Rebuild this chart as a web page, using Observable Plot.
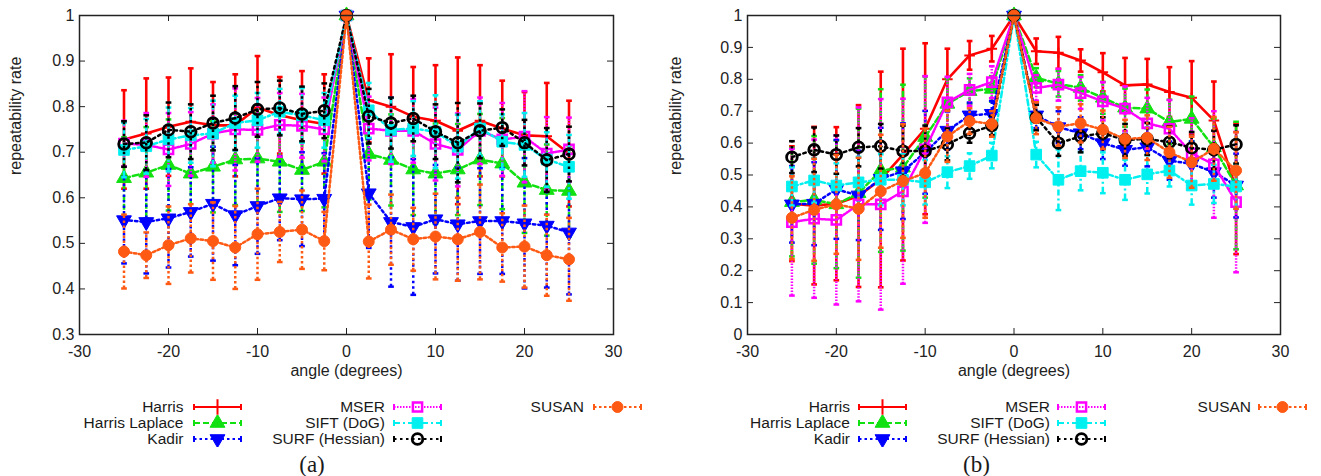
<!DOCTYPE html>
<html><head><meta charset="utf-8">
<script src="https://cdn.jsdelivr.net/npm/d3@7"></script>
<script src="https://cdn.jsdelivr.net/npm/@observablehq/plot@0.6"></script>
<style>
body{margin:0;background:#fff;font-family:"Liberation Sans",Arial,sans-serif;color:#222;}
#wrap{display:flex;width:1321px;height:476px;}
.panel{position:relative;height:476px;}
.lab{position:absolute;white-space:nowrap;font-size:15.5px;line-height:16px;text-align:right;color:#1a1a1a;}
.sw{position:absolute;}
.cap{position:absolute;font-family:"Liberation Serif","DejaVu Serif",serif;font-size:23px;line-height:26px;transform:translateX(-50%);color:#1a1a1a;}
</style></head><body>
<div id="wrap"><div class="panel" id="pa" style="width:660px"></div><div class="panel" id="pb" style="width:661px"></div></div>
<script>
const angles = [-25,-22.5,-20,-17.5,-15,-12.5,-10,-7.5,-5,-2.5,0,2.5,5,7.5,10,12.5,15,17.5,20,22.5,25];
const xTicks = [-30,-20,-10,0,10,20,30];
const yTicksA = [0.3,0.4,0.5,0.6,0.7,0.8,0.9,1];
const yTicksB = [0,0.1,0.2,0.3,0.4,0.5,0.6,0.7,0.8,0.9,1];
const names = ["Harris","Harris Laplace","Kadir","MSER","SIFT (DoG)","SURF (Hessian)","SUSAN"];

// panel (a)
const harrisA = [0.728,0.741,0.756,0.767,0.759,0.759,0.798,0.781,0.770,0.762,1,0.814,0.800,0.778,0.769,0.747,0.769,0.752,0.737,0.735,0.697];
const harrisAErr = [0.108,0.121,0.108,0.117,0.095,0.112,0.113,0.084,0.108,0.109,0,0.092,0.115,0.109,0.122,0.161,0.122,0.105,0.095,0.117,0.116];
const hlA = [0.643,0.655,0.672,0.653,0.668,0.684,0.686,0.679,0.661,0.679,1,0.696,0.683,0.662,0.653,0.662,0.684,0.675,0.633,0.617,0.615];
const hlAErr = [0.09,0.1,0.1,0.09,0.1,0.1,0.1,0.11,0.09,0.1,0,0.1,0.1,0.1,0.11,0.1,0.1,0.1,0.11,0.1,0.1];
const kadirA = [0.551,0.547,0.555,0.569,0.587,0.562,0.582,0.599,0.597,0.598,1,0.610,0.547,0.536,0.553,0.542,0.549,0.549,0.544,0.539,0.524];
const kadirAErr = [0.095,0.113,0.108,0.098,0.125,0.11,0.105,0.092,0.103,0.1,0,0.12,0.142,0.149,0.119,0.124,0.116,0.116,0.143,0.136,0.136];
const mserA = [0.719,0.716,0.706,0.718,0.741,0.750,0.749,0.760,0.758,0.750,1,0.752,0.747,0.747,0.718,0.705,0.747,0.728,0.734,0.697,0.706];
const mserAErr = [0.05,0.07,0.08,0.07,0.064,0.09,0.07,0.07,0.07,0.07,0,0.07,0.073,0.07,0.08,0.08,0.073,0.08,0.1,0.08,0.07];
const siftA = [0.705,0.713,0.728,0.737,0.741,0.764,0.770,0.789,0.781,0.770,1,0.792,0.749,0.752,0.745,0.712,0.752,0.723,0.716,0.684,0.668];
const siftAErr = [0.06,0.06,0.07,0.06,0.072,0.06,0.06,0.05,0.06,0.06,0,0.06,0.07,0.06,0.08,0.07,0.06,0.06,0.07,0.06,0.07];
const surfA = [0.718,0.721,0.749,0.745,0.764,0.775,0.794,0.797,0.784,0.791,1,0.779,0.764,0.774,0.745,0.721,0.747,0.754,0.721,0.683,0.696];
const surfAErr = [0.05,0.06,0.06,0.06,0.06,0.07,0.06,0.06,0.06,0.06,0,0.06,0.056,0.05,0.06,0.087,0.06,0.04,0.05,0.07,0.06];
const susanA = [0.482,0.474,0.496,0.511,0.505,0.491,0.520,0.525,0.530,0.505,1,0.504,0.530,0.509,0.515,0.509,0.525,0.491,0.493,0.474,0.465];
const susanAErr = [0.081,0.05,0.085,0.075,0.085,0.091,0.10,0.066,0.086,0.064,0,0.081,0.077,0.069,0.094,0.091,0.104,0.075,0.09,0.089,0.091];

// panel (b)
const harrisB = [0.41,0.404,0.41,0.434,0.486,0.564,0.645,0.80,0.875,0.896,1,0.888,0.883,0.859,0.822,0.781,0.784,0.760,0.742,0.671,0.457];
const harrisBErr = [0.18,0.247,0.24,0.285,0.338,0.332,0.268,0.096,0.045,0.04,0,0.04,0.05,0.035,0.06,0.086,0.08,0.078,0.115,0.122,0.205];
const hlB = [0.415,0.422,0.408,0.443,0.514,0.523,0.619,0.723,0.763,0.77,1,0.805,0.786,0.773,0.742,0.711,0.708,0.666,0.676,0.587,0.467];
const hlBErr = [0.17,0.2,0.2,0.265,0.255,0.26,0.19,0.08,0.04,0.04,0,0.03,0.04,0.04,0.05,0.06,0.06,0.07,0.07,0.09,0.2];
const kadirB = [0.408,0.41,0.455,0.436,0.488,0.512,0.571,0.639,0.687,0.692,1,0.687,0.650,0.631,0.600,0.579,0.587,0.545,0.535,0.509,0.467];
const kadirBErr = [0.12,0.13,0.155,0.14,0.16,0.15,0.13,0.06,0.04,0.04,0,0.04,0.05,0.05,0.05,0.05,0.06,0.06,0.07,0.08,0.1];
const mserB = [0.352,0.363,0.359,0.408,0.408,0.449,0.58,0.728,0.767,0.791,1,0.773,0.783,0.757,0.731,0.708,0.662,0.645,0.568,0.533,0.415];
const mserBErr = [0.23,0.248,0.265,0.304,0.33,0.29,0.23,0.08,0.05,0.05,0,0.04,0.05,0.05,0.06,0.07,0.08,0.09,0.11,0.167,0.22];
const siftB = [0.464,0.483,0.467,0.477,0.485,0.485,0.477,0.509,0.528,0.561,1,0.564,0.485,0.512,0.507,0.485,0.502,0.514,0.467,0.472,0.464];
const siftBErr = [0.06,0.07,0.07,0.08,0.08,0.08,0.07,0.05,0.04,0.04,0,0.04,0.095,0.06,0.064,0.063,0.06,0.05,0.06,0.06,0.07];
const surfB = [0.556,0.579,0.564,0.587,0.590,0.575,0.575,0.596,0.631,0.655,1,0.68,0.600,0.621,0.631,0.610,0.613,0.603,0.585,0.579,0.596];
const surfBErr = [0.05,0.07,0.06,0.06,0.07,0.08,0.08,0.05,0.03,0.03,0,0.04,0.04,0.05,0.05,0.05,0.05,0.05,0.05,0.06,0.06];
const susanB = [0.366,0.391,0.408,0.394,0.449,0.481,0.506,0.621,0.669,0.660,1,0.678,0.652,0.662,0.642,0.613,0.617,0.571,0.540,0.582,0.514];
const susanBErr = [0.13,0.16,0.155,0.16,0.177,0.178,0.14,0.08,0.04,0.04,0,0.05,0.06,0.06,0.06,0.06,0.07,0.08,0.08,0.1,0.12];

const styles = [
  {color:"#ff0000", dash:null, symbol:"plus", r:3.5, fill:"none", sw:2.6, msw:2},
  {color:"#11e011", dash:"6,3", symbol:"triangle", r:5.5, fill:"#11e011", sw:2.5, msw:1},
  {color:"#0000ff", dash:"2.5,3", symbol:"triangle", r:5.5, fill:"#0000ff", sw:2.5, msw:1, rotate:180},
  {color:"#ff00ff", dash:"1.5,1.5", symbol:"square", r:5.2, fill:"none", sw:2.5, msw:2.5},
  {color:"#00f0f0", dash:"6,3,2,3", symbol:"square", r:6, fill:"#00f0f0", sw:2.5, msw:1},
  {color:"#000000", dash:"2.5,3.5", symbol:"circle", r:5.3, fill:"none", sw:2.5, msw:2.8},
  {color:"#ff5a14", dash:"2.5,2.5", symbol:"circle", r:5.5, fill:"#ff5a14", sw:2.5, msw:1}
];

function buildPanel(el, cfg) {
  const {width, marginLeft, marginRight, yDomain, yTicks, vals, errs} = cfg;
  const H = 390, mt = 15, mb = 56;
  const plotH = H - mt - mb, plotW = width - marginLeft - marginRight;
  const ty = 6 * (yDomain[1] - yDomain[0]) / plotH;
  const tx = 6 * 60 / plotW;
  const capW = 0.32;
  const marks = [
    Plot.ruleX(xTicks, {x: d => d, y1: yDomain[0], y2: yDomain[0] + ty, stroke: "#222", strokeWidth: 1}),
    Plot.ruleX(xTicks, {x: d => d, y1: yDomain[1], y2: yDomain[1] - ty, stroke: "#222", strokeWidth: 1}),
    Plot.ruleY(yTicks, {y: d => d, x1: -30, x2: -30 + tx, stroke: "#222", strokeWidth: 1}),
    Plot.ruleY(yTicks, {y: d => d, x1: 30, x2: 30 - tx, stroke: "#222", strokeWidth: 1})
  ];
  vals.forEach((v, k) => {
    const s = styles[k];
    const rows = angles.map((a, i) => ({x: a, y: v[i], lo: v[i] - errs[k][i], hi: v[i] + errs[k][i], e: errs[k][i]}));
    const eb = rows.filter(d => d.e > 0);
    const common = {stroke: s.color, strokeWidth: s.sw, strokeDasharray: s.dash || undefined};
    marks.push(Plot.ruleX(eb, {x: "x", y1: "lo", y2: "hi", ...common}));
    marks.push(Plot.link(eb, {x1: d => d.x - capW, x2: d => d.x + capW, y1: "hi", y2: "hi", stroke: s.color, strokeWidth: s.sw}));
    marks.push(Plot.link(eb, {x1: d => d.x - capW, x2: d => d.x + capW, y1: "lo", y2: "lo", stroke: s.color, strokeWidth: s.sw}));
    marks.push(Plot.line(rows, {x: "x", y: "y", ...common}));
    marks.push(Plot.dot(rows, {x: "x", y: "y", symbol: s.symbol, r: s.r, fill: s.fill, stroke: s.color, strokeWidth: s.msw, rotate: s.rotate || 0}));
  });
  marks.push(Plot.frame({stroke: "#222", strokeWidth: 1.5}));
  marks.push(Plot.text(["angle (degrees)"], {text: d => d, frameAnchor: "bottom", dy: 41, fontSize: 16, fill: "#222"}));
  marks.push(Plot.text(["repeatability rate"], {text: d => d, frameAnchor: "left", rotate: -90, dx: 15 - marginLeft, fontSize: 16, fill: "#222"}));
  const svg = Plot.plot({
    width, height: H, marginTop: mt, marginBottom: mb, marginLeft, marginRight,
    style: {fontFamily: "'Liberation Sans', Arial, sans-serif", fontSize: "16px", color: "#222", background: "white", overflow: "visible"},
    x: {domain: [-30, 30], ticks: xTicks, tickSize: 0, tickPadding: 11, label: null, tickFormat: d => String(d)},
    y: {domain: yDomain, ticks: yTicks, tickSize: 0, tickPadding: 5, label: null, tickFormat: d => String(+d.toFixed(1))},
    marks
  });
  el.appendChild(svg);
  // legend
  const layout = [[0,0],[0,1],[0,2],[1,0],[1,1],[1,2],[2,0]];
  const rowY = [406.7, 423, 438.8];
  layout.forEach(([c, r], k) => {
    const s = styles[k];
    const cy0 = rowY[r];
    const lab = document.createElement("div");
    lab.className = "lab";
    lab.textContent = names[k];
    lab.style.top = (cy0 - 8) + "px";
    lab.style.right = (width - cfg.textEnd[c]) + "px";
    el.appendChild(lab);
    const sv = d3.create("svg").attr("class", "sw").attr("width", 50).attr("height", 16)
      .style("left", (cfg.swLeft[c] - 1) + "px").style("top", (cy0 - 8) + "px");
    const cy = 8;
    sv.append("line").attr("x1", 1).attr("x2", 48).attr("y1", cy).attr("y2", cy)
      .attr("stroke", s.color).attr("stroke-width", 2.2).attr("stroke-dasharray", s.dash);
    [1, 48].forEach(x => sv.append("line").attr("x1", x).attr("x2", x).attr("y1", cy - 3).attr("y2", cy + 3)
      .attr("stroke", s.color).attr("stroke-width", 2));
    const symMap = {plus: d3.symbolPlus, triangle: d3.symbolTriangle, square: d3.symbolSquare, circle: d3.symbolCircle};
    const rr = s.symbol === "plus" ? 5 : s.r;
    sv.append("path").attr("d", d3.symbol(symMap[s.symbol], Math.PI * rr * rr)())
      .attr("transform", `translate(24.5,${cy}) rotate(${s.rotate || 0})`)
      .attr("fill", s.fill).attr("stroke", s.color).attr("stroke-width", s.msw);
    el.appendChild(sv.node());
  });
  const cap = document.createElement("div");
  cap.className = "cap";
  cap.textContent = cfg.caption;
  cap.style.left = cfg.capX + "px";
  cap.style.top = "452px";
  el.appendChild(cap);
}

buildPanel(document.getElementById("pa"), {
  width: 660, marginLeft: 79, marginRight: 47, yDomain: [0.3, 1], yTicks: yTicksA,
  vals: [harrisA, hlA, kadirA, mserA, siftA, surfA, susanA],
  errs: [harrisAErr, hlAErr, kadirAErr, mserAErr, siftAErr, surfAErr, susanAErr],
  textEnd: [183.5, 385, 584], swLeft: [193.5, 394, 594], caption: "(a)", capX: 312
});
buildPanel(document.getElementById("pb"), {
  width: 661, marginLeft: 87, marginRight: 41, yDomain: [0, 1], yTicks: yTicksB,
  vals: [harrisB, hlB, kadirB, mserB, siftB, surfB, susanB],
  errs: [harrisBErr, hlBErr, kadirBErr, mserBErr, siftBErr, surfBErr, susanBErr],
  textEnd: [190, 390, 591], swLeft: [199, 398, 599], caption: "(b)", capX: 316.5
});
</script>
</body></html>
